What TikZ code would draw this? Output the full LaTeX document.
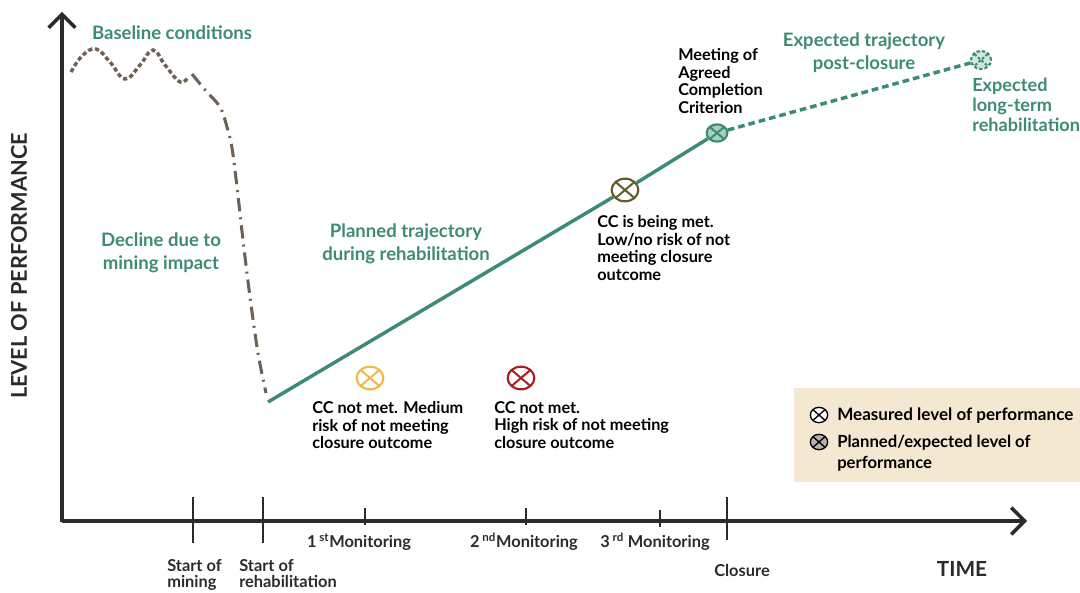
\documentclass[tikz,border=0pt]{standalone}
\usepackage{fontspec}
\setmainfont{Lato}
\usetikzlibrary{arrows.meta,shapes.geometric}
\definecolor{trajgreen}{HTML}{3C8B73}
\definecolor{markgreen}{HTML}{A9CFBF}
\definecolor{declinebrown}{HTML}{6D6255}
\definecolor{axisgrey}{HTML}{2B2B2B}
\definecolor{riskyellow}{HTML}{F2B84B}
\definecolor{riskred}{HTML}{A91E25}
\definecolor{riskolive}{HTML}{5F5E2B}
\definecolor{legendbeige}{HTML}{F5E8D3}
\tikzset{
  axisline/.style={line width=2.6pt,draw=axisgrey,-{Straight Barb[length=10pt,width=20pt,line width=2.6pt]}},
  tickmark/.style={line width=1pt,draw=axisgrey},
  greenlabel/.style={text=trajgreen,font=\fontsize{13.9}{15}\selectfont\bfseries,align=center},
  blacklabel/.style={text=black,font=\fontsize{12.2}{13.3}\selectfont\bfseries,align=left,anchor=north west,inner sep=0pt},
  ticklabel/.style={text=axisgrey,font=\fontsize{12.3}{12}\selectfont\bfseries,align=left,inner sep=0pt},
  markcross/.style={},
  ccmark/.style={ellipse,draw=#1,line width=1.6pt,minimum width=20pt,minimum height=17pt,inner sep=0pt,
    path picture={\draw[#1,line width=1.5pt,solid,markcross] (path picture bounding box.north west) -- (path picture bounding box.south east)
      (path picture bounding box.north east) -- (path picture bounding box.south west);}},
  keymark/.style={ellipse,draw=black,line width=1pt,minimum width=13pt,minimum height=11.5pt,inner sep=0pt,
    path picture={\draw[black,line width=1pt] (path picture bounding box.north west) -- (path picture bounding box.south east)
      (path picture bounding box.north east) -- (path picture bounding box.south west);}}
}
\begin{document}
\begin{tikzpicture}[x=.75pt,y=-.75pt]
\useasboundingbox (0,0) rectangle (1080,592);
\fill[legendbeige] (794,388) rectangle (1080,482);
% axes
\coordinate (origin) at (62,521);
\coordinate (ytop) at (62,12);
\coordinate (xend) at (1027,521);
\draw[axisline] (62,522.3) -- (ytop);
\draw[axisline] (origin) -- (xend);
% ticks
\coordinate (tmine) at (193,497);
\coordinate (tmineb) at (193,543);
\coordinate (trehab) at (263,497);
\coordinate (trehabb) at (263,543);
\coordinate (tfirst) at (365,508);
\coordinate (tfirstb) at (365,525);
\coordinate (tsecond) at (526,508);
\coordinate (tsecondb) at (526,525);
\coordinate (tthird) at (660,510);
\coordinate (tthirdb) at (660,527);
\coordinate (tclose) at (727,497);
\coordinate (tcloseb) at (727,540);
\draw[tickmark] (tmine) -- (tmineb);
\draw[tickmark] (trehab) -- (trehabb);
\draw[tickmark] (tfirst) -- (tfirstb);
\draw[tickmark] (tsecond) -- (tsecondb);
\draw[tickmark] (tthird) -- (tthirdb);
\draw[tickmark] (tclose) -- (tcloseb);
% performance curve
\draw[declinebrown,line width=2.6pt,dash pattern=on 3.2pt off 2pt] plot[smooth,tension=.7] coordinates {(71,72) (82,56) (96,49) (110,62) (125,79) (140,65) (153,50) (165,65) (180,82) (188,77)};
\draw[declinebrown,line width=2.3pt,dash pattern=on 10pt off 4.5pt on 1.5pt off 4.5pt] plot[smooth,tension=.6] coordinates {(192,74) (206,91) (220,107) (227,127) (232,148) (237,187) (243,240) (250,297) (258,353) (266,393)};
% trajectory
\coordinate (rehabstart) at (268,402);
\node[ccmark=riskolive,fill=white] (metmark) at (625,190) {};
\node[ccmark=trajgreen,fill=markgreen,minimum width=15.5pt,minimum height=13pt] (closemark) at (717,133) {};
\node[ccmark=trajgreen,fill=markgreen!50,minimum width=15pt,minimum height=13.5pt,dash pattern=on 2.5pt off 1.5pt,markcross/.style={dash pattern=on 2pt off 1.5pt}] (longmark) at (981,60) {};
\draw[trajgreen,line width=2.6pt] (rehabstart) -- (metmark);
\draw[trajgreen,line width=2.6pt] (metmark) -- (closemark);
\draw[trajgreen,line width=2.6pt,dash pattern=on 5pt off 3pt] (closemark) -- (longmark);
\node[ccmark=riskyellow] (medmark) at (370,378) {};
\node[ccmark=riskred] (highmark) at (521,378) {};
% green labels
\node[greenlabel] (baseline) at (172,33) {Baseline conditions};
\node[greenlabel] (decline) at (161,253) {Decline due to\\[2pt]mining impact};
\node[greenlabel] (planned) at (406,244) {Planned trajectory\\[2pt]during rehabilitation};
\node[greenlabel] (expected) at (864,53) {Expected trajectory\\[2pt]post-closure};
\node[greenlabel,align=left,anchor=north west,inner sep=0pt,font=\fontsize{13.6}{15}\selectfont\bfseries] (longterm) at (972,78) {Expected\\long-term\\rehabilitation};
% black labels
\node[blacklabel] (closelabel) at (678,48) {Meeting of\\Agreed\\Completion\\Criterion};
\node[blacklabel] (metlabel) at (597,215) {CC is being met.\\Low/no risk of not\\meeting closure\\outcome};
\node[blacklabel] (medlabel) at (312,401) {CC not met. Medium\\risk of not meeting\\closure outcome};
\node[blacklabel] (highlabel) at (494,401) {CC not met.\\High risk of not meeting\\closure outcome};
% legend
\node[keymark,fill=white] (keymeasured) at (819,415) {};
\node[keymark,fill=black!30] (keyplanned) at (819,442) {};
\node[blacklabel,anchor=west,font=\fontsize{12.8}{15.7}\selectfont\bfseries] (measuredtext) at (837,416) {Measured level of performance};
\node[blacklabel,anchor=north west,font=\fontsize{12.5}{15.7}\selectfont\bfseries] (plannedtext) at (837,434.5) {Planned/expected level of\\performance};
% axis labels
\node[ticklabel,anchor=north west] (minelabel) at (167,559) {Start of\\mining};
\node[ticklabel,anchor=north west] (rehablabel) at (239,559) {Start of\\rehabilitation};
\node[ticklabel] (firstlabel) at (359,542) {1\,\textsuperscript{st}Monitoring};
\node[ticklabel] (secondlabel) at (524,542) {2\,\textsuperscript{nd}Monitoring};
\node[ticklabel] (thirdlabel) at (655,542) {3\,\textsuperscript{rd} Monitoring};
\node[ticklabel] (closurelabel) at (742,570) {Closure};
\node[text=axisgrey,font=\fontsize{15.6}{16}\selectfont\bfseries] (timelabel) at (962,569) {TIME};
\node[text=axisgrey,font=\fontsize{16.3}{16}\selectfont\bfseries,rotate=90] (levellabel) at (19,266) {LEVEL OF PERFORMANCE};
\end{tikzpicture}
\end{document}
